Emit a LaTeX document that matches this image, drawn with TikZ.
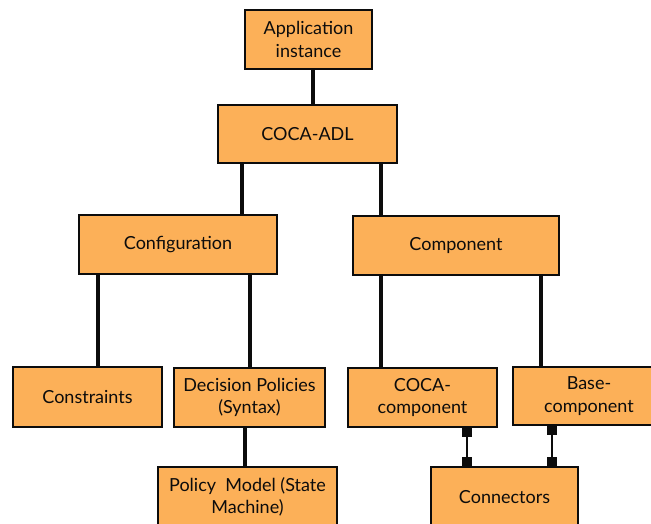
\documentclass[tikz,border=0pt]{standalone}
\usepackage{fontspec}
\setmainfont{Lato}
\usetikzlibrary{arrows.meta}
\definecolor{boxfill}{RGB}{252,176,88}
\definecolor{ink}{RGB}{12,12,12}
\begin{document}
\begin{tikzpicture}[x=1pt,y=-1pt,
  box/.style={draw=ink,fill=boxfill,line width=1.8pt,rectangle,inner sep=0pt,
    align=center,text=ink,font=\fontsize{18}{22.5}\selectfont},
  link/.style={draw=ink,line width=3.2pt},
  sqlink/.style={draw=ink,line width=2.4pt,{Square[length=9pt,width=10pt]}-{Square[length=9pt,width=10pt]}}]
\useasboundingbox (0,0) rectangle (651,524);
\clip (0,0) rectangle (651,524);
% boxes
\node[box,minimum width=127pt,minimum height=59pt] (app)  at (308.5,39.5) {Application\\instance};
\node[box,minimum width=179pt,minimum height=58pt] (adl)  at (307.5,134)  {COCA-ADL};
\node[box,minimum width=198pt,minimum height=59pt] (cfg)  at (178,244.5)  {Configuration};
\node[box,minimum width=206pt,minimum height=59pt] (comp) at (456,245.5)  {Component};
\node[box,minimum width=149pt,minimum height=60pt] (cons) at (87.5,397)   {Constraints};
\node[box,minimum width=151pt,minimum height=59pt] (dec)  at (249.5,397.5) {Decision Policies\\(Syntax)};
\node[box,minimum width=149pt,minimum height=59pt] (coca) at (422.5,397.5) {COCA-\\component};
\node[box,minimum width=152pt,minimum height=58pt] (base) at (589,396)    {Base-\\component};
\node[box,minimum width=179pt,minimum height=60pt] (pol)  at (247.5,497)  {Policy\ \ Model (State\\Machine)};
\node[box,minimum width=147pt,minimum height=60pt] (conn) at (504.5,497)  {Connectors};
% x positions of the vertical links
\coordinate (xa) at (313,0);
\coordinate (xb) at (242,0);
\coordinate (xc) at (381,0);
\coordinate (xd) at (98,0);
\coordinate (xe) at (250,0);
\coordinate (xf) at (541,0);
\coordinate (xg) at (245,0);
\coordinate (xh) at (467,0);
\coordinate (xi) at (552,0);
% tree links
\draw[link] (app.south -| xa) -- (adl.north -| xa);
\draw[link] (adl.south -| xb) -- (cfg.north -| xb);
\draw[link] (adl.south -| xc) -- (comp.north -| xc);
\draw[link] (cfg.south -| xd) -- (cons.north -| xd);
\draw[link] (cfg.south -| xe) -- (dec.north -| xe);
\draw[link] (comp.south -| xc) -- (coca.north -| xc);
\draw[link] (comp.south -| xf) -- (base.north -| xf);
\draw[link] (dec.south -| xg) -- (pol.north -| xg);
% connector links
\draw[sqlink] (coca.south -| xh) -- (conn.north -| xh);
\draw[sqlink] (base.south -| xi) -- (conn.north -| xi);
\end{tikzpicture}
\end{document}
